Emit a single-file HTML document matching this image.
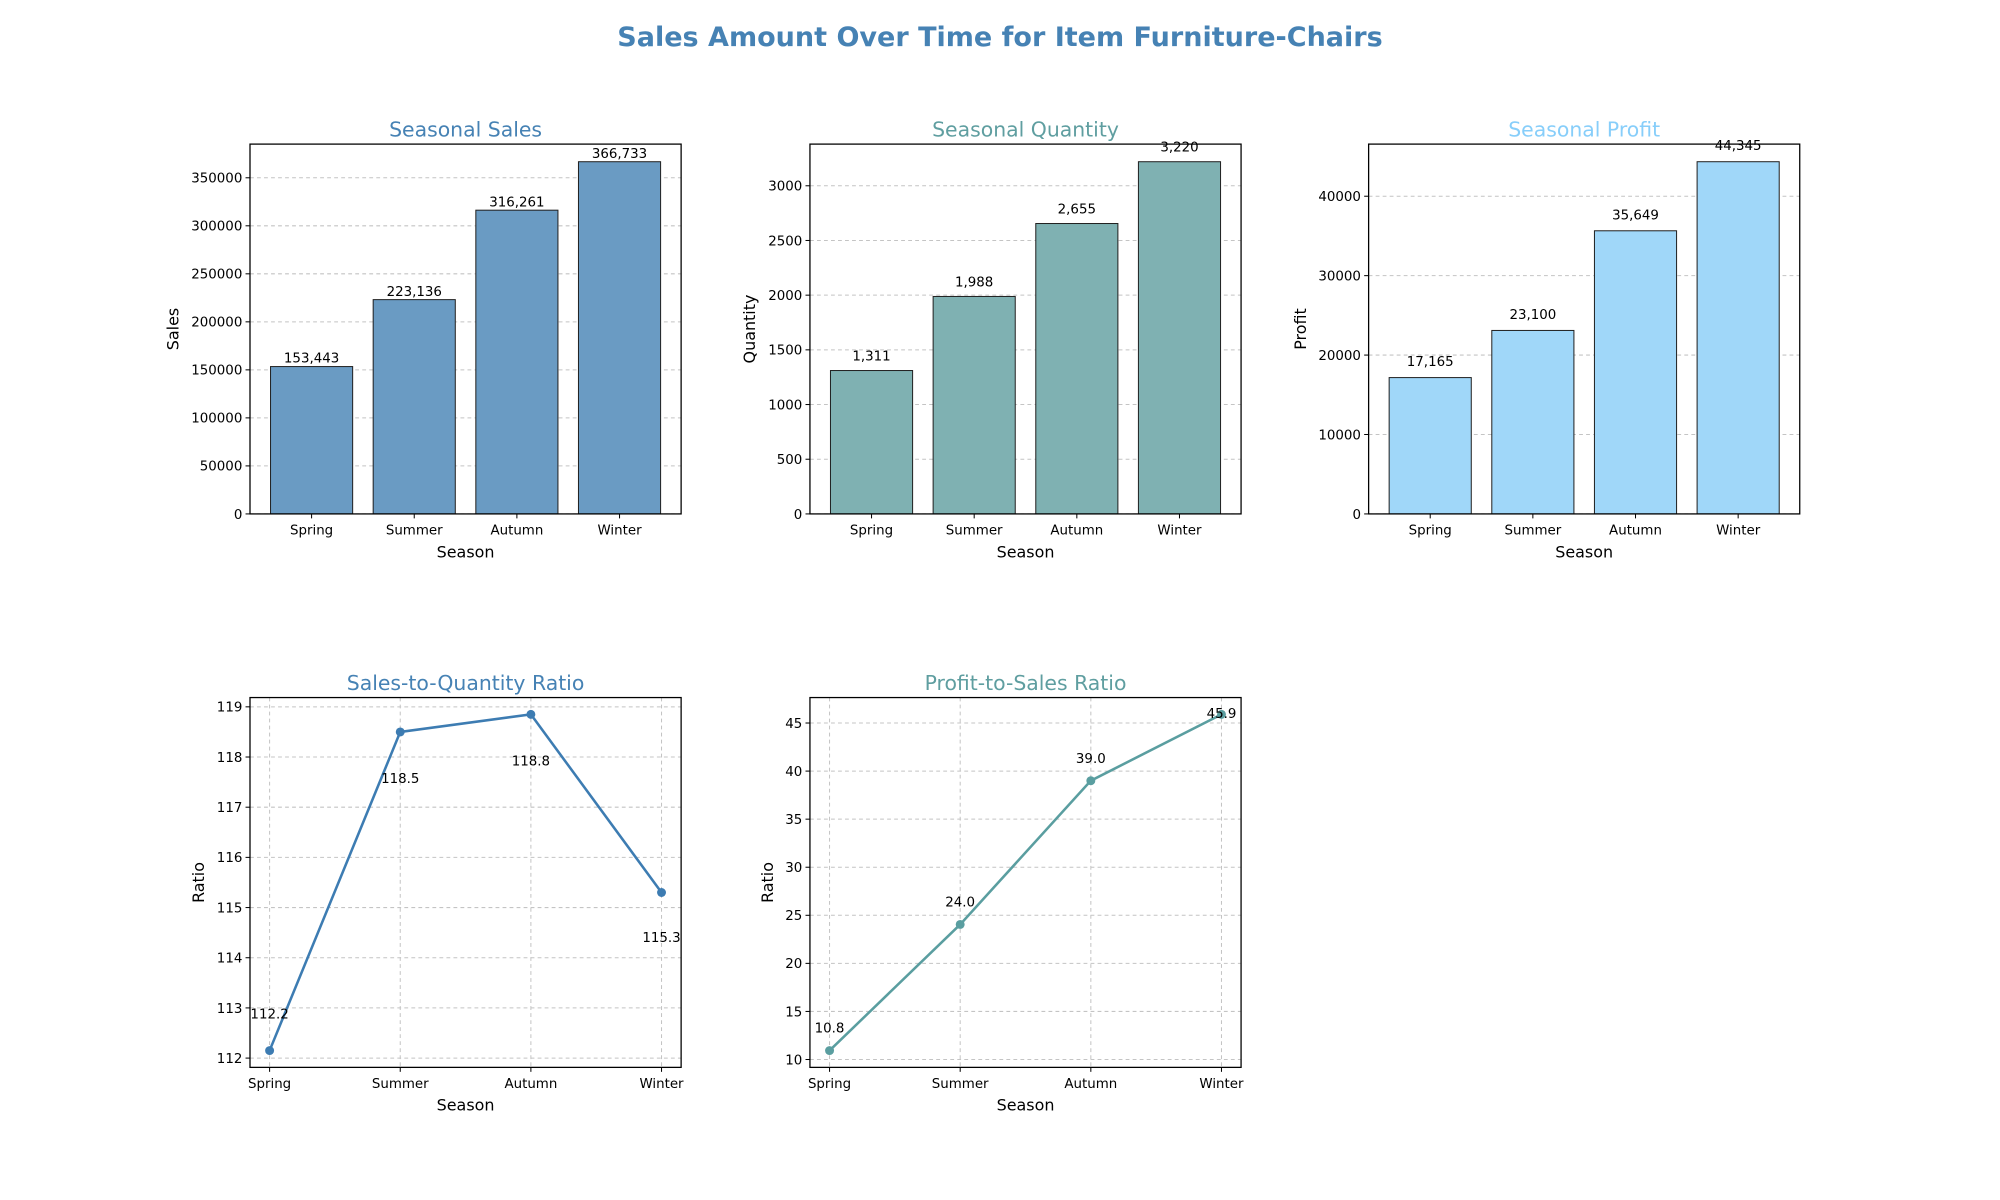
<!DOCTYPE html>
<html><head><meta charset="utf-8"><style>
html,body{margin:0;padding:0;background:#fff;}
svg{display:block;font-family:"DejaVu Sans","Liberation Sans",sans-serif;}
</style></head><body>
<svg id="fig" width="2000" height="1200" viewBox="0 0 1568 941" preserveAspectRatio="none" xmlns="http://www.w3.org/2000/svg">
<rect width="1568" height="941" fill="#fff"/>
<text x="784" y="36" text-anchor="middle" font-size="21.2" font-weight="bold" fill="#4682B4">Sales Amount Over Time for Item Furniture-Chairs</text>
</svg>
<script>
const seasons = ["Spring","Summer","Autumn","Winter"];
const salesValues = [153443, 223136, 316261, 366733];
const quantityValues = [1311, 1988, 2655, 3220];
const profitValues = [17165, 23100, 35649, 44345];
const salesTicks = [0,50000,100000,150000,200000,250000,300000,350000];
const quantityTicks = [0,500,1000,1500,2000,2500,3000];
const profitTicks = [0,10000,20000,30000,40000];
const sqRatioValues = [112.15, 118.5, 118.85, 115.3];
const sqRatioLabels = ["112.2","118.5","118.8","115.3"];
const sqTicks = [112,113,114,115,116,117,118,119];
const psRatioValues = [10.93, 24.05, 39.0, 45.9];
const psRatioLabels = ["10.8","24.0","39.0","45.9"];
const psTicks = [10,15,20,25,30,35,40,45];

const NS="http://www.w3.org/2000/svg";
const svg=document.getElementById('fig');
function mk(tag,attrs,parent){const e=document.createElementNS(NS,tag);for(const k in attrs)e.setAttribute(k,attrs[k]);(parent||svg).appendChild(e);return e;}
function txt(s,attrs,parent){const e=mk('text',attrs,parent);e.textContent=s;return e;}

function panel(cfg){
  const g=mk('g',{});
  
  
  const L=cfg.x0,R=cfg.x0+338,T=cfg.y0,B=cfg.y0+290;
  const sx=v=>L+(v-cfg.xmin)/(cfg.xmax-cfg.xmin)*(R-L);
  const sy=v=>B-(v-cfg.ymin)/(cfg.ymax-cfg.ymin)*(B-T);
  cfg.ticks.forEach(t=>{const l=mk('line',{x1:L,x2:R,y1:sy(t),y2:sy(t),stroke:'#c4c4c4','stroke-width':0.8,'stroke-dasharray':'3,2.5'},g);
    });
  if(cfg.type==='line'){seasons.forEach((s,i)=>{const l=mk('line',{x1:sx(i),x2:sx(i),y1:T,y2:B,stroke:'#c4c4c4','stroke-width':0.8,'stroke-dasharray':'3,2.5'},g);
    });}
  if(cfg.type==='bar'){
    cfg.values.forEach((v,i)=>{
      const b=mk('rect',{x:sx(i-0.4),y:sy(v),width:sx(0.4)-sx(-0.4),height:sy(0)-sy(v),fill:cfg.color,stroke:'#222','stroke-width':0.8},g);
      
      const t=txt(v.toLocaleString('en-US'),{x:sx(i),y:sy(v)+cfg.lblOff,'text-anchor':'middle','font-size':10.5,fill:'#000'},g);
      
    });
  } else {
    const pts=cfg.values.map((v,i)=>sx(i)+','+sy(v)).join(' ');
    const pl=mk('polyline',{points:pts,fill:'none',stroke:cfg.color,'stroke-width':2},g);
    
    cfg.values.forEach((v,i)=>{
      const c=mk('circle',{cx:sx(i),cy:sy(v),r:3.5,fill:cfg.color},g);
      
      const t=txt(cfg.labels[i],{x:sx(i),y:sy(v)+cfg.lblOffs[i],'text-anchor':'middle','font-size':10.5,fill:'#000'},g);
      
    });
  }
  const fr=mk('rect',{x:L,y:T,width:R-L,height:B-T,fill:'none',stroke:'#000','stroke-width':1},g);
  
  cfg.ticks.forEach(t=>{mk('line',{x1:L-3.5,x2:L,y1:sy(t),y2:sy(t),stroke:'#000','stroke-width':0.8},g);
    const e=txt(String(t),{x:L-6,y:sy(t)+3.8,'text-anchor':'end','font-size':10.5,fill:'#000'},g);
    });
  seasons.forEach((s,i)=>{mk('line',{x1:sx(i),x2:sx(i),y1:B,y2:B+3.5,stroke:'#000','stroke-width':0.8},g);
    const e=txt(s,{x:sx(i),y:B+16,'text-anchor':'middle','font-size':10.5,fill:'#000'},g);
    });
  const xt=txt('Season',{x:(L+R)/2,y:B+34,'text-anchor':'middle','font-size':12.5,fill:'#000'},g);
  
  const yx=cfg.ylabX, yy=(T+B)/2;
  const yt=txt(cfg.ylabel,{x:yx,y:yy,'text-anchor':'middle','font-size':12.5,fill:'#000',transform:`rotate(-90 ${yx} ${yy})`},g);
  
  const tt=txt(cfg.title,{x:(L+R)/2,y:T-6,'text-anchor':'middle','font-size':16,fill:cfg.titleColor},g);
  
}
const mx=a=>Math.max(...a);
panel({name:'seasonal-sales-chart',type:'bar',x0:196,y0:113,xmin:-0.6,xmax:3.6,ymin:0,ymax:mx(salesValues)*1.05,ticks:salesTicks,values:salesValues,color:'#6A9BC3',lblOff:-3,ylabel:'Sales',ylabX:140,title:'Seasonal Sales',titleColor:'#4682B4'});
panel({name:'seasonal-quantity-chart',type:'bar',x0:635,y0:113,xmin:-0.6,xmax:3.6,ymin:0,ymax:mx(quantityValues)*1.05,ticks:quantityTicks,values:quantityValues,color:'#7FB1B2',lblOff:-8,ylabel:'Quantity',ylabX:592,title:'Seasonal Quantity',titleColor:'#5F9EA0'});
panel({name:'seasonal-profit-chart',type:'bar',x0:1073,y0:113,xmin:-0.6,xmax:3.6,ymin:0,ymax:mx(profitValues)*1.05,ticks:profitTicks,values:profitValues,color:'#A0D7F9',lblOff:-9,ylabel:'Profit',ylabX:1024,title:'Seasonal Profit',titleColor:'#87CEFA'});
const r1min=Math.min(...sqRatioValues),r1max=mx(sqRatioValues),r1m=(r1max-r1min)*0.05;
panel({name:'sales-to-quantity-ratio-chart',type:'line',x0:196,y0:547,xmin:-0.15,xmax:3.15,ymin:r1min-r1m,ymax:r1max+r1m,ticks:sqTicks,values:sqRatioValues,labels:sqRatioLabels,lblOffs:[-25,40,40,39],color:'#3D7CB2',ylabel:'Ratio',ylabX:160,title:'Sales-to-Quantity Ratio',titleColor:'#4682B4'});
const r2min=Math.min(...psRatioValues),r2max=mx(psRatioValues),r2m=(r2max-r2min)*0.05;
panel({name:'profit-to-sales-ratio-chart',type:'line',x0:635,y0:547,xmin:-0.15,xmax:3.15,ymin:r2min-r2m,ymax:r2max+r2m,ticks:psTicks,values:psRatioValues,labels:psRatioLabels,lblOffs:[-14,-14,-14,3],color:'#5A9EA0',ylabel:'Ratio',ylabX:606,title:'Profit-to-Sales Ratio',titleColor:'#5F9EA0'});
</script>
</body></html>
